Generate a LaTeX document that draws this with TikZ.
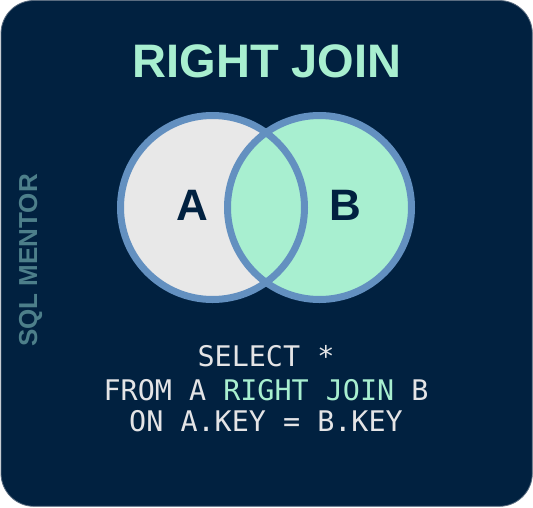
\documentclass[tikz,border=0pt]{standalone}
\usepackage{fontspec}
\setmainfont{Liberation Sans}
\newfontfamily\codefont{DejaVu Sans Mono}
\definecolor{navy}{RGB}{1,33,64}
\definecolor{mint}{RGB}{168,239,208}
\definecolor{lgrey}{RGB}{232,232,232}
\definecolor{ring}{RGB}{99,144,192}
\definecolor{mentor}{RGB}{77,127,138}
\definecolor{edge}{RGB}{90,108,128}
\definecolor{codegrey}{RGB}{228,228,230}
\tikzset{
  setring/.style={draw=ring, line width=7pt},
  setlabel/.style={anchor=base, text=navy, font=\fontsize{44}{44}\selectfont\bfseries, inner sep=0pt},
  codeline/.style={anchor=base, text=codegrey, font=\codefont\fontsize{28.4}{28.4}\selectfont, inner sep=0pt}
}
\begin{document}
\begin{tikzpicture}[x=1pt,y=-1pt]
\useasboundingbox (0,0) rectangle (533,507);
\fill[white] (0,0) rectangle (533,507);
\draw[fill=navy, draw=edge, line width=0.8pt, rounded corners=33pt] (1,0.5) rectangle (532.3,506.3);
% title
\node[anchor=base, text=mint, font=\fontsize{47}{47}\selectfont\bfseries, inner sep=0pt] (title) at (267,77) {RIGHT JOIN};
% venn
\coordinate (ca) at (212.5,207.5);
\coordinate (cb) at (319.5,207.5);
\fill[lgrey] (ca) circle[radius=92pt];
\fill[mint] (cb) circle[radius=92pt];
\draw[setring] (ca) circle[radius=92pt];
\draw[setring] (cb) circle[radius=92pt];
\node[setlabel] (la) at (192.5,220) {A};
\node[setlabel] (lb) at (345,220) {B};
% side label
\node[rotate=90, text=mentor, font=\fontsize{26}{26}\selectfont\bfseries, inner sep=0pt] (side) at (30.5,260.5) {SQL MENTOR};
% code
\node[codeline] (c1) at (266,366) {SELECT *};
\node[codeline] (c2) at (266,400) {FROM A \textcolor{mint}{RIGHT JOIN} B};
\node[codeline] (c3) at (266,431.7) {ON A.KEY = B.KEY};
\end{tikzpicture}
\end{document}
